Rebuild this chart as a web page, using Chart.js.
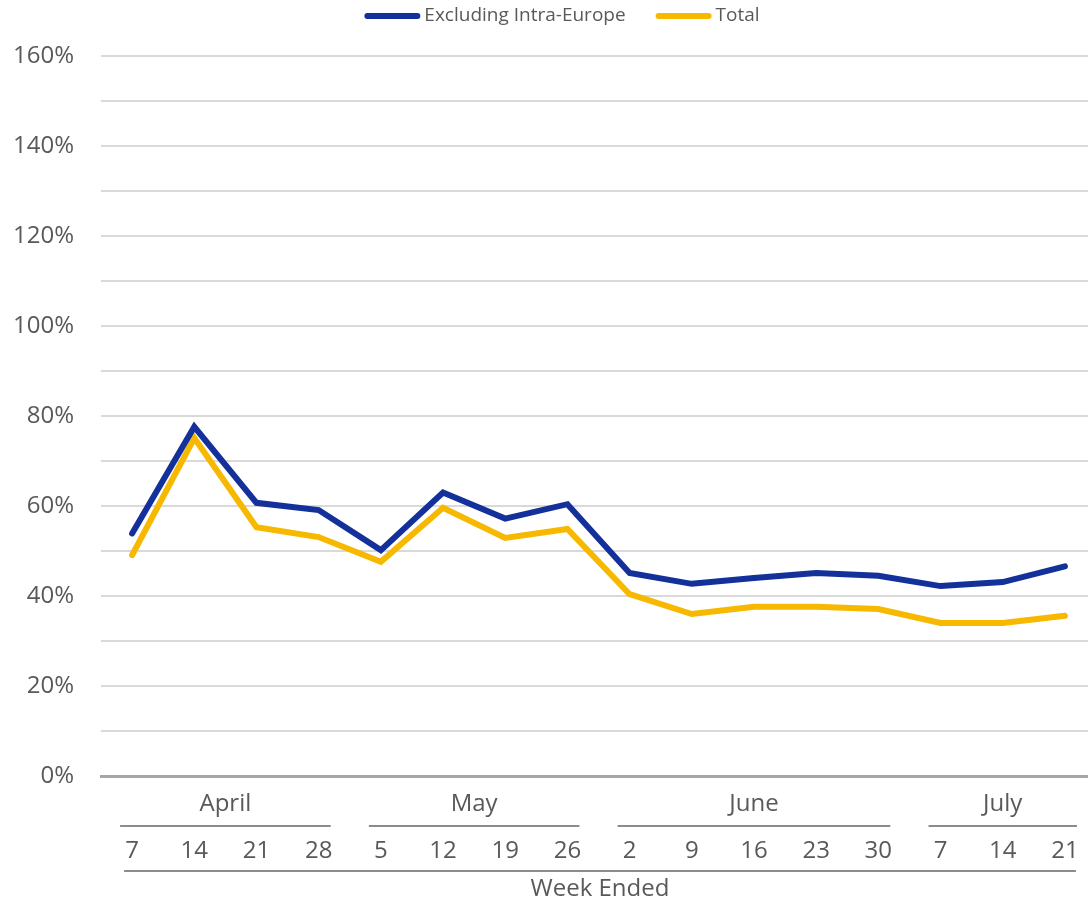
<!DOCTYPE html>
<html>
<head>
<meta charset="utf-8">
<script src="https://cdn.jsdelivr.net/npm/chart.js@4"></script>
<style>
  html, body { margin: 0; padding: 0; background: #fff; overflow: hidden; }
  #wrap { width: 1088px; height: 904px; overflow: hidden; }
</style>
</head>
<body>
<div id="wrap"><canvas id="myChart" width="1096" height="904"></canvas></div>
<script>
const weeks = ['7', '14', '21', '28', '5', '12', '19', '26', '2', '9', '16', '23', '30', '7', '14', '21'];
const months = ['April', 'May', 'June', 'July'];
const monthSizes = [4, 4, 5, 3];
const exclIntraEurope = [53.9, 77.6, 60.7, 59.1, 50.2, 63.0, 57.2, 60.4, 45.1, 42.7, 44.0, 45.1, 44.5, 42.2, 43.1, 46.6];
const total = [49.1, 75.1, 55.3, 53.1, 47.6, 59.6, 52.9, 54.9, 40.4, 36.0, 37.6, 37.6, 37.1, 34.0, 34.0, 35.6];

const textColor = '#595959';
const ruleColor = '#8c8c8c';
const font = '"Open Sans", sans-serif';

// top legend: long rounded line swatch + label, drawn from the datasets
const lineLegend = {
    id: 'lineLegend',
    afterDraw(chart) {
        const { ctx } = chart;
        const sets = chart.data.datasets;
        const sw = 56, gap = 4, between = 30, y = 16;
        ctx.save();
        ctx.font = '19px ' + font;
        const widths = sets.map(d => sw + gap + ctx.measureText(d.label).width);
        const full = widths.reduce((a, b) => a + b, 0) + between * (sets.length - 1);
        let x = chart.width / 2 + 14 - full / 2;
        sets.forEach((d, k) => {
            ctx.strokeStyle = d.borderColor;
            ctx.lineWidth = 6;
            ctx.lineCap = 'round';
            ctx.beginPath();
            ctx.moveTo(x + 3, y);
            ctx.lineTo(x + sw - 3, y);
            ctx.stroke();
            ctx.fillStyle = textColor;
            ctx.textAlign = 'left';
            ctx.textBaseline = 'middle';
            ctx.fillText(d.label, x + sw + gap, y);
            x += widths[k] + between;
        });
        ctx.restore();
    }
};

// draws the two-level category axis (months over weeks) and the axis title
const groupedAxis = {
    id: 'groupedAxis',
    afterDraw(chart) {
        const { ctx, chartArea, scales: { x } } = chart;
        const b = chartArea.bottom;
        ctx.save();
        ctx.fillStyle = textColor;
        ctx.strokeStyle = ruleColor;
        ctx.lineWidth = 2;
        ctx.textAlign = 'center';
        ctx.textBaseline = 'middle';
        ctx.font = '24px ' + font;

        let i = 0;
        months.forEach((m, k) => {
            const first = i, last = i + monthSizes[k] - 1;
            const x0 = x.getPixelForValue(first) - 12;
            const x1 = x.getPixelForValue(last) + 12;
            ctx.fillText(m, (x0 + x1) / 2, b + 28);
            ctx.beginPath();
            ctx.moveTo(x0, b + 50);
            ctx.lineTo(x1, b + 50);
            ctx.stroke();
            i += monthSizes[k];
        });

        weeks.forEach((w, j) => {
            ctx.fillText(w, x.getPixelForValue(j), b + 75);
        });

        const l0 = x.getPixelForValue(0) - 8;
        const l1 = x.getPixelForValue(weeks.length - 1) + 11;
        ctx.beginPath();
        ctx.moveTo(l0, b + 95);
        ctx.lineTo(l1, b + 95);
        ctx.stroke();

        ctx.fillText('Week Ended', (l0 + l1) / 2, b + 113);
        ctx.restore();
    }
};

const ctx = document.getElementById('myChart').getContext('2d');

const myChart = new Chart(ctx, {
    type: 'line',
    data: {
        labels: weeks,
        datasets: [{
            label: 'Excluding Intra-Europe',
            data: exclIntraEurope,
            borderColor: '#14309a',
            backgroundColor: '#14309a',
            borderWidth: 6,
            borderCapStyle: 'round',
            pointRadius: 0,
            tension: 0
        }, {
            label: 'Total',
            data: total,
            borderColor: '#f7b800',
            backgroundColor: '#f7b800',
            borderWidth: 6,
            borderCapStyle: 'round',
            pointRadius: 0,
            tension: 0
        }]
    },
    options: {
        responsive: false,
        animation: false,
        layout: { padding: { left: 12, right: 0, top: 56, bottom: 120 } },
        plugins: {
            legend: { display: false },
            tooltip: { enabled: false }
        },
        scales: {
            x: {
                offset: true,
                grid: { display: false },
                border: { display: true, color: '#a6a6a6', width: 3 },
                ticks: { display: false }
            },
            y: {
                min: 0,
                max: 160,
                afterFit: (scale) => { scale.width = 89; },
                grid: { color: '#d9d9d9', lineWidth: 2, drawTicks: false },
                border: { display: false },
                ticks: {
                    stepSize: 10,
                    padding: 27,
                    color: textColor,
                    font: { family: font, size: 24 },
                    callback: (v) => (v % 20 === 0 ? v + '%' : '')
                }
            }
        }
    },
    plugins: [groupedAxis, lineLegend]
});
</script>
</body>
</html>
